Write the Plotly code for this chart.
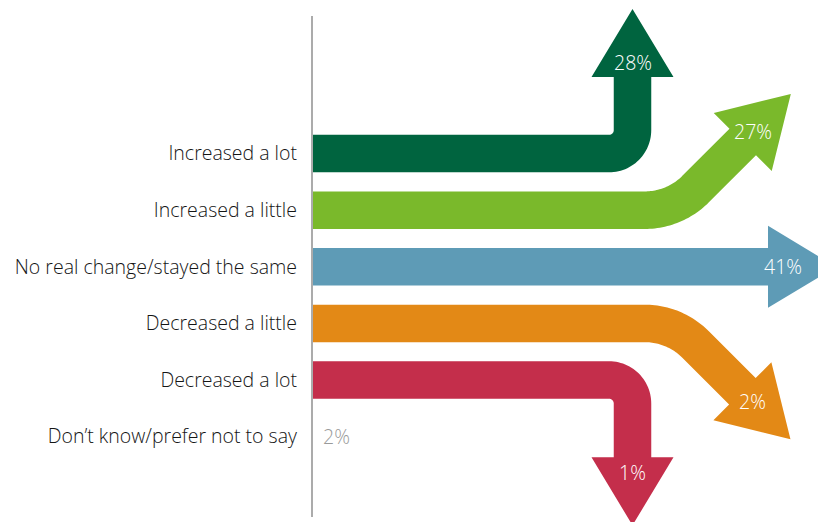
import math
import plotly.graph_objects as go

# Survey answers (top to bottom) and share of respondents
categories = [
    "Increased a lot",
    "Increased a little",
    "No real change/stayed the same",
    "Decreased a little",
    "Decreased a lot",
    "Don’t know/prefer not to say",
]
shares = [28, 27, 41, 2, 1, 2]

# Arrow styling per answer: colour and how far the arrow turns (degrees, + = up)
colors = ["#00643f", "#7ab92b", "#5e9bb6", "#e38916", "#c42e4b", None]
turns = [90, 45, 0, -45, -90, None]
corner_x = [320.5, 362.5, 456.0, 362.5, 320.5, None]   # where the shaft bends
bend_radius = [23.5, 72.0, 0.0, 72.0, 23.5, None]
run_after_bend = [76.6, 96.5, 0.0, 96.0, 77.3, None]

ROW_PX = 56.6        # pixels between rows
SHAFT_HW = 18.75     # half thickness of a shaft
HEAD_HW = 41.0       # half width of an arrow head
HEAD_LEN = 68.0      # length of an arrow head
X_START = 1.0
LABEL_OFF = 15.0

W, H = 818, 522
ROW0_PX = 153.6      # pixel position of the first row


def to_data(row, pt):
    x, y = pt
    return x, row + y / ROW_PX


def arrow(row, turn, corner, radius, run):
    a = math.radians(turn)
    s = 1 if turn >= 0 else -1
    t = radius * math.tan(abs(a) / 2)
    x_arc = corner - t
    centre = [(X_START, 0.0, 0.0), (x_arc, 0.0, 0.0)]
    if turn != 0:
        cx, cy = x_arc, -s * radius
        n_seg = 28
        for k in range(1, n_seg + 1):
            ak = a * k / n_seg
            centre.append((cx + s * radius * math.sin(ak),
                           cy + s * radius * math.cos(ak), ak))
    d = (math.cos(a), -math.sin(a))
    nrm = (math.sin(a), math.cos(a))
    bx, by = corner + run * d[0], run * d[1]

    left = [(px - SHAFT_HW * math.sin(ak), py - SHAFT_HW * math.cos(ak))
            for px, py, ak in centre]
    right = [(px + SHAFT_HW * math.sin(ak), py + SHAFT_HW * math.cos(ak))
             for px, py, ak in centre]
    head = [
        (bx - SHAFT_HW * nrm[0], by - SHAFT_HW * nrm[1]),
        (bx - HEAD_HW * nrm[0], by - HEAD_HW * nrm[1]),
        (bx + HEAD_LEN * d[0], by + HEAD_LEN * d[1]),
        (bx + HEAD_HW * nrm[0], by + HEAD_HW * nrm[1]),
        (bx + SHAFT_HW * nrm[0], by + SHAFT_HW * nrm[1]),
    ]
    pts = left + head + right[::-1]
    path = "M " + " L ".join("%.3f,%.5f" % to_data(row, p) for p in pts) + " Z"
    label_at = to_data(row, (bx + LABEL_OFF * d[0], by + LABEL_OFF * d[1]))
    return path, label_at


fig = go.Figure()
shapes = []
annotations = []
FONT = "Open Sans"
FONT_SIZE = 19.5
FONT_WEIGHT = 300

for i, cat in enumerate(categories):
    if colors[i] is None:
        annotations.append(dict(
            x=X_START + 8, y=i, xref="x", yref="y", text=f"{shares[i]}%",
            showarrow=False, xanchor="left", yanchor="middle",
            font=dict(family=FONT, size=FONT_SIZE, weight=FONT_WEIGHT, color="#9a9a9a")))
        continue
    path, (lx, ly) = arrow(i, turns[i], corner_x[i], bend_radius[i], run_after_bend[i])
    shapes.append(dict(type="path", path=path, xref="x", yref="y",
                       fillcolor=colors[i], line=dict(width=0), layer="above"))
    annotations.append(dict(
        x=lx, y=ly, xref="x", yref="y", text=f"{shares[i]}%", showarrow=False,
        xanchor="center", yanchor="middle",
        font=dict(family=FONT, size=FONT_SIZE, weight=FONT_WEIGHT, color="#ffffff")))

# vertical separator line next to the answer labels
shapes.append(dict(type="line", xref="x", yref="paper", x0=0, x1=0,
                   y0=(H - 517) / H, y1=(H - 16) / H,
                   line=dict(color="#ababab", width=2), layer="above"))

# invisible trace so the axes are drawn
fig.add_trace(go.Scatter(x=[None], y=[None], showlegend=False, hoverinfo="skip"))

L_MARGIN = 310
x_lo = -(312 - L_MARGIN)
fig.update_layout(
    width=W, height=H,
    margin=dict(l=L_MARGIN, r=0, t=0, b=0),
    paper_bgcolor="white", plot_bgcolor="white",
    shapes=shapes, annotations=annotations,
    showlegend=False,
    xaxis=dict(range=[x_lo, x_lo + (W - L_MARGIN)], visible=False, fixedrange=True),
    yaxis=dict(
        range=[(H - ROW0_PX) / ROW_PX, -ROW0_PX / ROW_PX],
        tickvals=list(range(len(categories))), ticktext=categories,
        showgrid=False, zeroline=False, showline=False, ticks="",
        ticklabelstandoff=12,
        tickfont=dict(family=FONT, size=FONT_SIZE, weight=FONT_WEIGHT, color="#151515"),
        fixedrange=True,
    ),
)

fig.write_html("out.html")
